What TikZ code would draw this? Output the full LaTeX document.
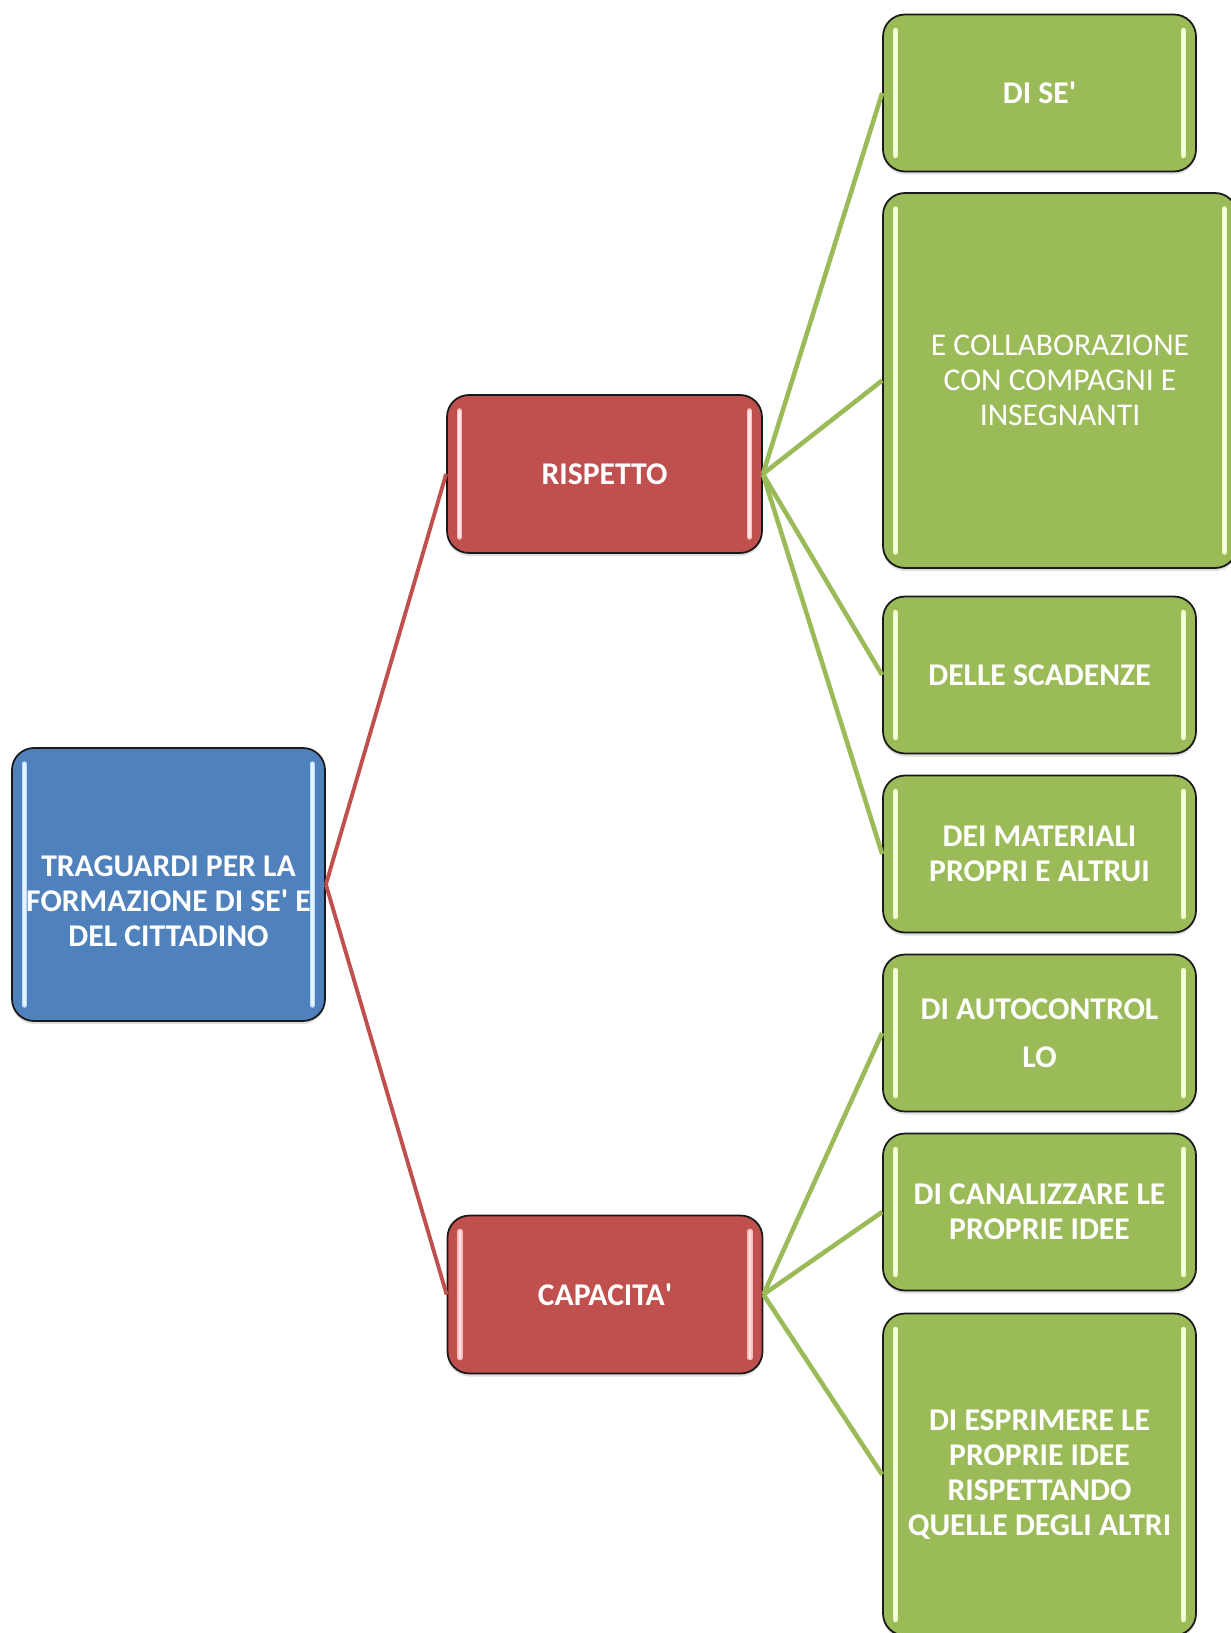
\documentclass[tikz,border=0pt]{standalone}
\usepackage{fontspec}
\setmainfont{Carlito}
\usepackage{tikz}
\usetikzlibrary{positioning,shadows}
\definecolor{trblue}{RGB}{79,129,189}
\definecolor{trred}{RGB}{192,80,77}
\definecolor{trgreen}{RGB}{155,187,89}
\definecolor{trbluehl}{RGB}{190,222,255}
\definecolor{trredhl}{RGB}{255,190,190}
\definecolor{trgreenhl}{RGB}{236,255,186}
\tikzset{
  glossy/.style={path picture={
      \foreach \c/\w in {#1/3.2pt,white!60!#1/1.4pt}{
        \draw[\c,line width=\w,line cap=round]
          ([xshift=0.25cm,yshift=-0.32cm]path picture bounding box.north west)
            -- ([xshift=0.25cm,yshift=0.32cm]path picture bounding box.south west)
          ([xshift=-0.25cm,yshift=-0.32cm]path picture bounding box.north east)
            -- ([xshift=-0.25cm,yshift=0.32cm]path picture bounding box.south east);
      }}},
  box/.style={draw=black!90,line width=1pt,rounded corners=0.44cm,
    text=white,align=center,inner sep=2pt,
    font=\fontsize{18}{20}\selectfont\bfseries,
    drop shadow={opacity=0.25,shadow xshift=0pt,shadow yshift=-0.06cm}},
  rootbox/.style={box,fill=trblue,glossy=trbluehl,
    minimum width=6.26cm,minimum height=5.46cm},
  midbox/.style={box,fill=trred,glossy=trredhl,
    minimum width=6.3cm,minimum height=3.16cm},
  leafbox/.style={box,fill=trgreen,glossy=trgreenhl,
    minimum width=6.26cm,minimum height=3.14cm},
  redlink/.style={trred,line width=2.2pt},
  greenlink/.style={trgreen,line width=2.6pt}
}
\begin{document}
\begin{tikzpicture}
  \useasboundingbox (0,0) rectangle (24.6,-32.66);

  \node[rootbox] (root) at (3.37,-17.69) {%
    \raisebox{-11.4pt}[\height][\depth]{%
    \begin{tabular}{@{}c@{}}
      TRAGUARDI PER LA\\
      FORMAZIONE DI SE\textquotesingle{} E\\
      DEL CITTADINO
    \end{tabular}}};

  \node[midbox] (rispetto) at (12.09,-9.48) {RISPETTO};
  \node[midbox] (capacita) at (12.1,-25.89) {CAPACITA\textquotesingle};

  \node[leafbox] (dise) at (20.79,-1.86) {DI SE\textquotesingle};
  \node[leafbox,minimum width=7.08cm,minimum height=7.5cm,
        font=\fontsize{18}{20}\selectfont] (collab) at (21.2,-7.61)
    {E COLLABORAZIONE\\CON COMPAGNI E\\INSEGNANTI};
  \node[leafbox] (scadenze) at (20.79,-13.5) {DELLE SCADENZE};
  \node[leafbox] (materiali) at (20.79,-17.08) {DEI MATERIALI\\PROPRI E ALTRUI};
  \node[leafbox] (autocontrollo) at (20.79,-20.66) {DI AUTOCONTROL\\[7.3pt]LO};
  \node[leafbox] (canalizzare) at (20.79,-24.24) {DI CANALIZZARE LE\\PROPRIE IDEE};
  \node[leafbox,minimum height=6.44cm] (esprimere) at (20.79,-29.49)
    {DI ESPRIMERE LE\\PROPRIE IDEE\\RISPETTANDO\\QUELLE DEGLI ALTRI};

  \draw[redlink] (root.east) -- (rispetto.west);
  \draw[redlink] (root.east) -- (capacita.west);
  \foreach \leaf in {dise,collab,scadenze,materiali}
    \draw[greenlink] (rispetto.east) -- (\leaf.west);
  \foreach \leaf in {autocontrollo,canalizzare,esprimere}
    \draw[greenlink] (capacita.east) -- (\leaf.west);
\end{tikzpicture}
\end{document}
